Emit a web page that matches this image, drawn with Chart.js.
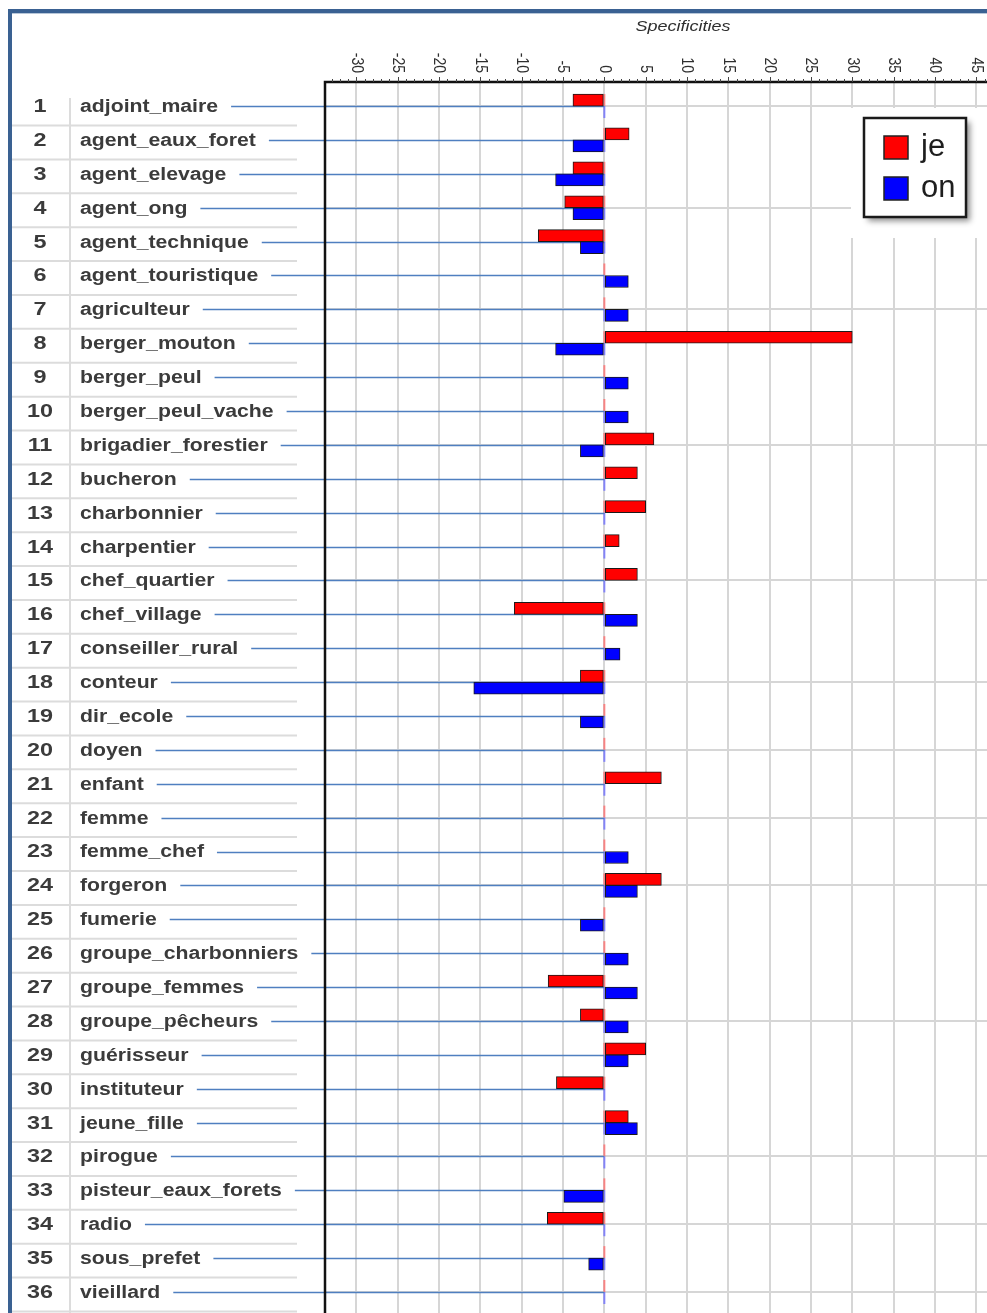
<!DOCTYPE html>
<html>
<head>
<meta charset="utf-8">
<script src="https://cdn.jsdelivr.net/npm/chart.js@4.4.1/dist/chart.umd.min.js"></script>
<style>
  html, body { margin: 0; padding: 0; background: #fff; }
  #wrap { position: relative; width: 987px; height: 1313px; }
</style>
</head>
<body>
<div id="wrap"><canvas id="chart" width="987" height="1313"></canvas></div>
<script>
// rows of the table, top to bottom
const rowNames = [
  'adjoint_maire', 'agent_eaux_foret', 'agent_elevage', 'agent_ong', 'agent_technique',
  'agent_touristique', 'agriculteur', 'berger_mouton', 'berger_peul', 'berger_peul_vache',
  'brigadier_forestier', 'bucheron', 'charbonnier', 'charpentier', 'chef_quartier',
  'chef_village', 'conseiller_rural', 'conteur', 'dir_ecole', 'doyen',
  'enfant', 'femme', 'femme_chef', 'forgeron', 'fumerie',
  'groupe_charbonniers', 'groupe_femmes', 'groupe_pêcheurs', 'guérisseur', 'instituteur',
  'jeune_fille', 'pirogue', 'pisteur_eaux_forets', 'radio', 'sous_prefet', 'vieillard'
];

// specificity scores (0 = no bar)
const jeValues = [
  -3.8, 3.0, -3.8, -4.8, -8.0,
  0, 0, 30.0, 0, 0,
  6.0, 4.0, 5.0, 1.8, 4.0,
  -10.9, 0, -2.9, 0, 0,
  6.9, 0, 0, 6.9, 0,
  0, -6.8, -2.9, 5.0, -5.8,
  2.9, 0, 0, -6.9, 0, 0
];
const onValues = [
  0, -3.8, -5.9, -3.8, -2.9,
  2.9, 2.9, -5.9, 2.9, 2.9,
  -2.9, 0, 0, 0, 0,
  4.0, 1.9, -15.8, -2.9, 0,
  0, 0, 2.9, 4.0, -2.9,
  2.9, 4.0, 2.9, 2.9, 0,
  4.0, 0, -4.9, 0, -1.9, 0
];

const seriesNames = ['je', 'on'];
const seriesColors = ['#ff0000', '#0000ff'];
const xTickValues = [-30, -25, -20, -15, -10, -5, 0, 5, 10, 15, 20, 25, 30, 35, 40, 45];
const gridRows = [1, 4, 7, 11, 15, 18, 20, 22, 24, 28, 32, 34, 36];
const axisTitle = 'Specificities';

const LABEL_FONT = 'bold 18px "Liberation Sans", Arial, sans-serif';
const LABEL_SX = 1.18;

const toPoints = vals => vals
  .map((v, i) => ({ x: v, y: i + 1 }))
  .filter(p => p.x !== 0);

// draw text stretched horizontally, returns drawn width
function wideText(ctx, text, x, y, sx, align) {
  ctx.save();
  ctx.translate(x, y);
  ctx.scale(sx, 1);
  ctx.textAlign = align;
  ctx.fillText(text, 0, 0);
  const w = ctx.measureText(text).width * sx;
  ctx.restore();
  return w;
}

const pagePlugin = {
  id: 'page',
  beforeDraw(chart) {
    const ctx = chart.ctx;
    ctx.save();
    ctx.fillStyle = '#fff';
    ctx.fillRect(0, 0, chart.width, chart.height);
    ctx.restore();
  },
  beforeDatasetsDraw(chart) {
    const { ctx, scales: { x, y } } = chart;
    const x0 = x.getPixelForValue(0);
    ctx.save();
    // faint zero marks for each row
    rowNames.forEach((_, i) => {
      const py = y.getPixelForValue(i + 1);
      ctx.lineWidth = 2;
      ctx.strokeStyle = 'rgba(255,110,110,0.8)';
      ctx.beginPath(); ctx.moveTo(x0, py - 12); ctx.lineTo(x0, py); ctx.stroke();
      ctx.strokeStyle = 'rgba(110,110,255,0.8)';
      ctx.beginPath(); ctx.moveTo(x0, py); ctx.lineTo(x0, py + 12); ctx.stroke();
    });
    // connectors from labels to zero
    ctx.font = LABEL_FONT;
    ctx.strokeStyle = '#4f7fc0';
    ctx.lineWidth = 1.5;
    rowNames.forEach((name, i) => {
      const py = Math.round(y.getPixelForValue(i + 1)) + 0.5;
      const w = ctx.measureText(name).width * LABEL_SX;
      ctx.beginPath();
      ctx.moveTo(80 + w + 13, py);
      ctx.lineTo(x0, py);
      ctx.stroke();
    });
    ctx.restore();
  },
  afterDraw(chart) {
    const { ctx, chartArea, scales: { x, y } } = chart;
    ctx.save();

    // table grid
    ctx.strokeStyle = '#dcdcdc';
    ctx.lineWidth = 2;
    ctx.beginPath(); ctx.moveTo(70, 98); ctx.lineTo(70, chart.height); ctx.stroke();
    rowNames.forEach((_, i) => {
      const py = y.getPixelForValue(i + 1) + 19.5;
      ctx.beginPath(); ctx.moveTo(12, py); ctx.lineTo(297, py); ctx.stroke();
    });

    // row numbers and names
    ctx.fillStyle = '#3b3b3b';
    ctx.textBaseline = 'middle';
    ctx.font = LABEL_FONT;
    rowNames.forEach((name, i) => {
      const py = y.getPixelForValue(i + 1) + 1;
      wideText(ctx, String(i + 1), 40, py, 1.3, 'center');
      wideText(ctx, name, 80, py, LABEL_SX, 'left');
    });

    // frame
    ctx.strokeStyle = '#111';
    ctx.lineWidth = 2.5;
    ctx.beginPath();
    ctx.moveTo(chartArea.left, chart.height);
    ctx.lineTo(chartArea.left, chartArea.top);
    ctx.lineTo(chart.width, chartArea.top);
    ctx.stroke();

    // minor and major ticks
    ctx.lineWidth = 1;
    ctx.strokeStyle = '#444';
    for (let v = Math.ceil(x.min); v <= x.max; v++) {
      const px = Math.round(x.getPixelForValue(v)) + 0.5;
      ctx.beginPath();
      ctx.moveTo(px, chartArea.top - (v % 5 === 0 ? 5 : 3));
      ctx.lineTo(px, chartArea.top);
      ctx.stroke();
    }

    // rotated tick labels
    ctx.fillStyle = '#2e2e2e';
    ctx.font = '14px "Liberation Sans", Arial, sans-serif';
    xTickValues.forEach(v => {
      const px = x.getPixelForValue(v);
      ctx.save();
      ctx.translate(px, 73);
      ctx.rotate(Math.PI / 2);
      ctx.scale(1, 1.2);
      ctx.textAlign = 'right';
      ctx.textBaseline = 'middle';
      ctx.fillText(String(v), 0, 0);
      ctx.restore();
    });

    // axis title
    ctx.font = 'italic 15px "Liberation Sans", Arial, sans-serif';
    ctx.textBaseline = 'middle';
    wideText(ctx, axisTitle, 683, 27, 1.2, 'center');

    // legend
    ctx.fillStyle = '#fff';
    ctx.fillRect(851, 108, chart.width - 851, 130);
    ctx.save();
    ctx.shadowColor = 'rgba(0,0,0,0.45)';
    ctx.shadowBlur = 6;
    ctx.shadowOffsetX = 4;
    ctx.shadowOffsetY = 4;
    ctx.fillStyle = '#fff';
    ctx.fillRect(864, 118, 102, 99);
    ctx.restore();
    ctx.strokeStyle = '#1a1a1a';
    ctx.lineWidth = 2.5;
    ctx.strokeRect(864, 118, 102, 99);
    ctx.font = '31px "Liberation Sans", Arial, sans-serif';
    ctx.textAlign = 'left';
    ctx.textBaseline = 'middle';
    chart.data.datasets.forEach((ds, i) => {
      const cy = 147 + i * 41;
      ctx.fillStyle = ds.backgroundColor;
      ctx.fillRect(884, cy - 11, 24, 23);
      ctx.lineWidth = 1.5;
      ctx.strokeStyle = '#222';
      ctx.strokeRect(884, cy - 11, 24, 23);
      ctx.fillStyle = '#1e1e1e';
      ctx.fillText(ds.label, 921, cy);
    });

    // outer window border
    ctx.fillStyle = '#3a6192';
    ctx.fillRect(8, 9, chart.width - 8, 4);
    ctx.fillRect(8, 9, 4, chart.height - 9);
    ctx.fillStyle = '#b7c6d8';
    ctx.fillRect(12, 13, chart.width - 12, 1);

    ctx.restore();
  }
};

new Chart(document.getElementById('chart'), {
  type: 'bar',
  data: {
    datasets: [
      { label: seriesNames[0], data: toPoints(jeValues), backgroundColor: seriesColors[0] },
      { label: seriesNames[1], data: toPoints(onValues), backgroundColor: seriesColors[1] }
    ]
  },
  plugins: [pagePlugin],
  options: {
    indexAxis: 'y',
    responsive: false,
    animation: false,
    layout: { padding: { left: 325, top: 82, right: 0, bottom: 0 } },
    datasets: {
      bar: {
        barThickness: 12,
        borderWidth: 1,
        borderColor: '#1a1a1a',
        borderSkipped: false
      }
    },
    plugins: {
      legend: { display: false },
      tooltip: { enabled: false }
    },
    scales: {
      x: {
        type: 'linear',
        position: 'top',
        min: -33.8,
        max: 46.3,
        offset: false,
        afterBuildTicks: s => { s.ticks = xTickValues.map(v => ({ value: v })); },
        ticks: { display: false },
        grid: { color: '#d6d6d6', lineWidth: 2, drawTicks: false, offset: false },
        border: { display: false }
      },
      y: {
        type: 'linear',
        reverse: true,
        min: 0.29,
        max: 36.62,
        offset: false,
        afterBuildTicks: s => { s.ticks = gridRows.map(v => ({ value: v })); },
        ticks: { display: false },
        grid: { color: '#d6d6d6', lineWidth: 2, drawTicks: false, offset: false },
        border: { display: false }
      }
    }
  }
});
</script>
</body>
</html>
